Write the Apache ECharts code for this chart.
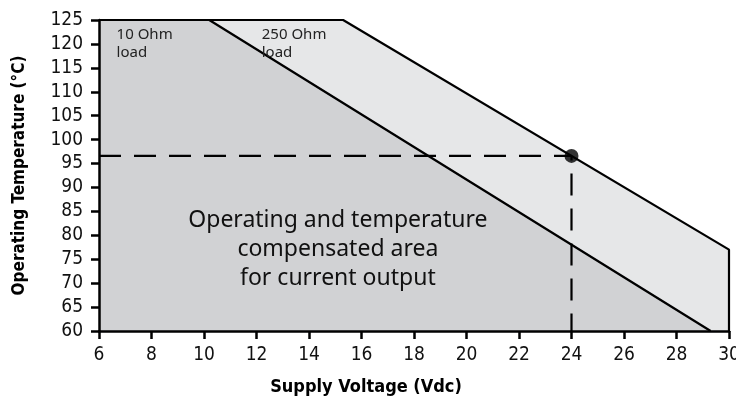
<!DOCTYPE html>
<html>
<head>
<meta charset="utf-8">
<script src="https://cdn.jsdelivr.net/npm/echarts@6/dist/echarts.min.js"></script>
<style>html,body{margin:0;padding:0;background:#fff}#c{width:736px;height:400px}</style>
</head>
<body>
<div id="c"></div>
<script>
// Data
var ohm250Boundary = [[6,125],[15.3,125],[30,77],[30,60]];
var ohm10Boundary = [[6,125],[10.2,125],[29.3,60]];
var operatingPoint = [24, 96.6];
var guideLine = [[6,96.6],[24,96.6],[24,60]];
var xTicks = {min: 6, max: 30, interval: 2};
var yTicks = {min: 60, max: 125, interval: 5};
var labels10 = {text: '10 Ohm\nload', at: [6.67, 123.8]};
var labels250 = {text: '250 Ohm\nload', at: [12.2, 123.8]};
var areaText = {text: 'Operating and temperature\ncompensated area\nfor current output', at: [15.1, 77.1]};

var tickFont = '"DejaVu Sans Condensed", "Liberation Sans Narrow", sans-serif';
var chart = echarts.init(document.getElementById('c'));
var axisCommon = {
  z: 10,
  splitLine: {show: false},
  axisLine: {show: true, lineStyle: {color: '#000', width: 2.5}},
  axisTick: {show: true, length: 8, lineStyle: {color: '#000', width: 2.5}}
};
chart.setOption({
  animation: false,
  grid: {left: 99, right: 7, top: 20, bottom: 69, containLabel: false, outerBoundsMode: 'none'},
  xAxis: Object.assign({type: 'value', min: xTicks.min, max: xTicks.max, interval: xTicks.interval}, axisCommon, {
    axisLabel: {color: '#111', fontSize: 19, fontFamily: tickFont, margin: 15}
  }),
  yAxis: Object.assign({type: 'value', min: yTicks.min, max: yTicks.max, interval: yTicks.interval}, axisCommon, {
    axisLabel: {color: '#111', fontSize: 19, fontFamily: tickFont, margin: 16},
    name: 'Operating Temperature (°C)', nameLocation: 'middle', nameGap: 71,
    nameTextStyle: {fontSize: 17, fontWeight: 'bold', color: '#000', fontFamily: tickFont}
  }),
  series: [
    {type: 'line', data: ohm250Boundary, symbol: 'none', z: 2,
     lineStyle: {color: '#000', width: 2.2}, areaStyle: {color: '#e6e7e8', opacity: 1, origin: 'start'}},
    {type: 'line', data: ohm10Boundary, symbol: 'none', z: 3,
     lineStyle: {color: '#000', width: 2.2}, areaStyle: {color: '#d1d2d4', opacity: 1, origin: 'start'}},
    {type: 'line', data: guideLine, symbol: 'none', z: 4,
     lineStyle: {color: '#000', width: 2.2, type: [22, 13]}},
    {type: 'scatter', data: [operatingPoint], symbol: 'circle', symbolSize: 14, z: 5,
     itemStyle: {color: '#000'}}
  ]
});

function px(p){ return chart.convertToPixel({gridIndex: 0}, p); }
var p10 = px(labels10.at), p250 = px(labels250.at), pa = px(areaText.at);
chart.setOption({
  graphic: [
    {type: 'text', left: p10[0], top: p10[1], z: 20, style: {text: labels10.text, font: '15px "Noto Sans", sans-serif', fill: '#222', lineHeight: 18}},
    {type: 'text', left: p250[0], top: p250[1], z: 20, style: {text: labels250.text, font: '15px "Noto Sans", sans-serif', fill: '#222', lineHeight: 18}},
    {type: 'text', x: pa[0], y: pa[1], z: 20, style: {text: areaText.text, font: '23px "Noto Sans", sans-serif', fill: '#111', align: 'center', verticalAlign: 'middle', lineHeight: 29}},
    {type: 'text', x: 366, y: 387, z: 20, style: {text: 'Supply Voltage (Vdc)', font: 'bold 18px ' + tickFont, fill: '#000', align: 'center', verticalAlign: 'middle'}}
  ]
});
</script>
</body>
</html>
